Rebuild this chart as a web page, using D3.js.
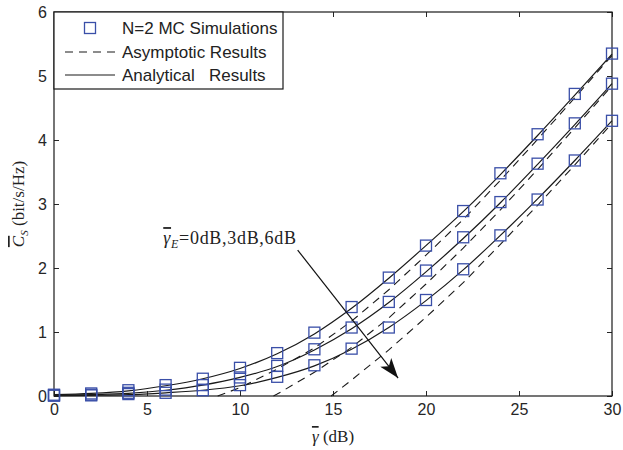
<!DOCTYPE html>
<html>
<head>
<meta charset="utf-8">
<script src="https://d3js.org/d3.v7.min.js"></script>
<style>
  body { margin: 0; background: #fff; }
  svg { font-family: "Liberation Sans", Arial, sans-serif; }
  .tick text { font-size: 16px; fill: #262626; }
  .tick line { stroke: #262626; }
  .serif { font-family: "Liberation Serif", "Times New Roman", serif; }
</style>
</head>
<body>
<svg id="chart" width="623" height="450"></svg>
<script>
// SNR points (dB)
var snr = [0, 2, 4, 6, 8, 10, 12, 14, 16, 18, 20, 22, 24, 26, 28, 30]

// analytical results, gammaE = 0, 3, 6 dB
var analytic0 = [0.02, 0.04, 0.08, 0.16, 0.27, 0.43, 0.66, 0.97, 1.37, 1.84, 2.35, 2.88, 3.46, 4.07, 4.70, 5.34]
var analytic3 = [0.01, 0.02, 0.04, 0.09, 0.17, 0.29, 0.46, 0.72, 1.05, 1.46, 1.94, 2.46, 3.02, 3.62, 4.24, 4.88]
var analytic6 = [0.005, 0.01, 0.02, 0.05, 0.09, 0.16, 0.29, 0.47, 0.73, 1.07, 1.49, 1.97, 2.51, 3.08, 3.68, 4.30]

// monte carlo simulations
var sim0 = [0.02, 0.04, 0.09, 0.17, 0.27, 0.44, 0.67, 0.99, 1.39, 1.85, 2.35, 2.89, 3.48, 4.09, 4.72, 5.35]
var sim3 = [0.01, 0.02, 0.05, 0.10, 0.17, 0.29, 0.47, 0.73, 1.07, 1.47, 1.96, 2.48, 3.03, 3.63, 4.26, 4.88]
var sim6 = [0.005, 0.01, 0.03, 0.05, 0.09, 0.17, 0.30, 0.48, 0.74, 1.07, 1.50, 1.98, 2.51, 3.07, 3.68, 4.30]

// asymptotic results (start where they cross zero)
var asymX0 = [8.8, 10, 12, 14, 16, 18, 20, 22, 24, 26, 28, 30]
var asym0 = [0, 0.13, 0.42, 0.75, 1.17, 1.66, 2.20, 2.76, 3.37, 4.01, 4.66, 5.32]
var asymX3 = [11.8, 12, 14, 16, 18, 20, 22, 24, 26, 28, 30]
var asym3 = [0, 0.03, 0.37, 0.76, 1.22, 1.75, 2.31, 2.91, 3.54, 4.19, 4.85]
var asymX6 = [14.9, 16, 18, 20, 22, 24, 26, 28, 30]
var asym6 = [0, 0.25, 0.72, 1.23, 1.77, 2.37, 2.98, 3.61, 4.26]

var xTicks = [0, 5, 10, 15, 20, 25, 30]
var yTicks = [0, 1, 2, 3, 4, 5, 6]

// annotation arrow, in data units
var arrowFrom = [13.1, 2.28]
var arrowTo = [18.5, 0.28]

var pLeft = 54, pRight = 612, pTop = 12, pBottom = 396
var blue = "#3a4fa8"

var svg = d3.select("#chart")

var x = d3.scaleLinear().domain([0, 30]).range([pLeft, pRight])
var y = d3.scaleLinear().domain([0, 6]).range([pBottom, pTop])

// axes with inward ticks, matlab style
svg.append("g")
  .attr("transform", "translate(0," + pBottom + ")")
  .call(d3.axisBottom(x).tickValues(xTicks).tickSizeInner(-5).tickSizeOuter(0).tickPadding(8))
  .call(function(g) { g.select(".domain").remove() })

svg.append("g")
  .attr("transform", "translate(0," + pTop + ")")
  .call(d3.axisTop(x).tickValues(xTicks).tickSizeInner(-5).tickSizeOuter(0).tickFormat(""))
  .call(function(g) { g.select(".domain").remove() })

svg.append("g")
  .attr("transform", "translate(" + pLeft + ",0)")
  .call(d3.axisLeft(y).tickValues(yTicks).tickFormat(d3.format("d")).tickSizeInner(-5).tickSizeOuter(0).tickPadding(7))
  .call(function(g) { g.select(".domain").remove() })

svg.append("g")
  .attr("transform", "translate(" + pRight + ",0)")
  .call(d3.axisRight(y).tickValues(yTicks).tickSizeInner(-5).tickSizeOuter(0).tickFormat(""))
  .call(function(g) { g.select(".domain").remove() })

svg.append("rect")
  .attr("x", pLeft).attr("y", pTop)
  .attr("width", pRight - pLeft).attr("height", pBottom - pTop)
  .attr("fill", "none").attr("stroke", "#1a1a1a").attr("stroke-width", 1.2)

var line = d3.line()
  .x(function(d) { return x(d[0]) })
  .y(function(d) { return y(d[1]) })

var smooth = d3.line()
  .curve(d3.curveMonotoneX)
  .x(function(d) { return x(d[0]) })
  .y(function(d) { return y(d[1]) })

// asymptotic (dashed)
;[[asymX0, asym0], [asymX3, asym3], [asymX6, asym6]].forEach(function(s) {
  svg.append("path")
    .datum(d3.zip(s[0], s[1]))
    .attr("fill", "none")
    .attr("stroke", "#1a1a1a")
    .attr("stroke-width", 1.1)
    .attr("stroke-dasharray", "8,6")
    .attr("d", line)
})

// analytical (solid)
;[analytic0, analytic3, analytic6].forEach(function(s) {
  svg.append("path")
    .datum(d3.zip(snr, s))
    .attr("fill", "none")
    .attr("stroke", "#1a1a1a")
    .attr("stroke-width", 1.2)
    .attr("d", smooth)
})

// simulation markers
var ms = 11
;[sim0, sim3, sim6].forEach(function(s) {
  svg.append("g").selectAll("rect")
    .data(d3.zip(snr, s))
    .enter().append("rect")
    .attr("x", function(d) { return x(d[0]) - ms / 2 })
    .attr("y", function(d) { return y(d[1]) - ms / 2 })
    .attr("width", ms).attr("height", ms)
    .attr("fill", "none")
    .attr("stroke", blue)
    .attr("stroke-width", 1.3)
})

// annotation
svg.append("defs").append("marker")
  .attr("id", "head")
  .attr("viewBox", "0 0 20 14")
  .attr("refX", 20).attr("refY", 7)
  .attr("markerWidth", 20).attr("markerHeight", 14)
  .attr("markerUnits", "userSpaceOnUse")
  .attr("orient", "auto")
  .append("path")
  .attr("d", "M0,0 L20,7 L0,14 L5,7 Z")
  .attr("fill", "#111")

svg.append("line")
  .attr("x1", x(arrowFrom[0])).attr("y1", y(arrowFrom[1]))
  .attr("x2", x(arrowTo[0])).attr("y2", y(arrowTo[1]))
  .attr("stroke", "#111").attr("stroke-width", 1.2)
  .attr("marker-end", "url(#head)")

var ann = svg.append("text")
  .attr("class", "serif")
  .attr("x", x(arrowFrom[0]) - 1)
  .attr("y", y(arrowFrom[1]) - 6)
  .attr("text-anchor", "end")
  .attr("font-size", 18)
  .attr("letter-spacing", 0.7)
  .attr("fill", "#222")
ann.append("tspan").attr("font-style", "italic").style("text-decoration", "overline").text("γ")
ann.append("tspan").attr("font-style", "italic").attr("font-size", 12).attr("dy", 4).text("E")
ann.append("tspan").attr("dy", -4).text("=0dB,3dB,6dB")

// legend
var lg = svg.append("g")
lg.append("rect")
  .attr("x", pLeft).attr("y", pTop)
  .attr("width", 229).attr("height", 77)
  .attr("fill", "#fff").attr("stroke", "#1a1a1a").attr("stroke-width", 1.2)
lg.append("rect")
  .attr("x", 90 - ms / 2).attr("y", 28 - ms / 2)
  .attr("width", ms).attr("height", ms)
  .attr("fill", "none").attr("stroke", blue).attr("stroke-width", 1.3)
lg.append("line")
  .attr("x1", 65).attr("x2", 115).attr("y1", 52).attr("y2", 52)
  .attr("stroke", "#1a1a1a").attr("stroke-width", 1.1).attr("stroke-dasharray", "8,6")
lg.append("line")
  .attr("x1", 65).attr("x2", 115).attr("y1", 75).attr("y2", 75)
  .attr("stroke", "#1a1a1a").attr("stroke-width", 1.2)
var labels = ["N=2 MC Simulations", "Asymptotic Results", "Analytical   Results"]
var ly = [28, 52, 75]
labels.forEach(function(t, i) {
  lg.append("text")
    .attr("x", 122).attr("y", ly[i] + 6)
    .attr("font-size", 17)
    .attr("fill", "#222")
    .style("white-space", "pre")
    .text(t)
})

// axis titles
var xl = svg.append("text")
  .attr("class", "serif")
  .attr("x", (pLeft + pRight) / 2).attr("y", 442)
  .attr("text-anchor", "middle")
  .attr("font-size", 17)
  .attr("fill", "#222")
xl.append("tspan").attr("font-style", "italic").style("text-decoration", "overline").text("γ")
xl.append("tspan").text(" (dB)")

var yl = svg.append("text")
  .attr("class", "serif")
  .attr("transform", "translate(24," + ((pTop + pBottom) / 2) + ") rotate(-90)")
  .attr("text-anchor", "middle")
  .attr("font-size", 17)
  .attr("fill", "#222")
yl.append("tspan").attr("font-style", "italic").style("text-decoration", "overline").text("C")
yl.append("tspan").attr("font-style", "italic").attr("font-size", 11).attr("dy", 4).text("S")
yl.append("tspan").attr("dy", -4).text(" (bit/s/Hz)")
</script>
</body>
</html>
